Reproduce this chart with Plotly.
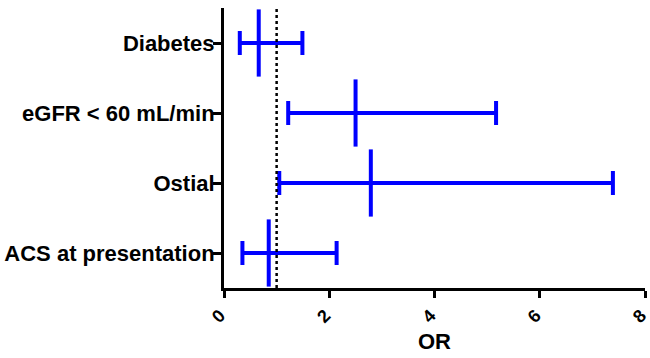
import plotly.graph_objects as go

categories = ["Diabetes", "eGFR < 60 mL/min", "Ostial", "ACS at presentation"]
odds_ratio = [0.66, 2.50, 2.79, 0.85]
ci_lower = [0.30, 1.22, 1.05, 0.35]
ci_upper = [1.49, 5.17, 7.39, 2.14]
reference_value = 1.0
x_ticks = [0, 2, 4, 6, 8]

blue = "#0000ff"
font_family = "Liberation Sans, Arial, Helvetica, sans-serif"

err_plus = [u - o for u, o in zip(ci_upper, odds_ratio)]
err_minus = [o - l for o, l in zip(odds_ratio, ci_lower)]

fig = go.Figure()
fig.add_trace(go.Scatter(
    x=odds_ratio,
    y=categories,
    mode="markers",
    marker=dict(symbol="line-ns", size=48, color=blue,
                line=dict(color=blue, width=4)),
    error_x=dict(type="data", symmetric=False, array=err_plus,
                 arrayminus=err_minus, color=blue, thickness=4, width=12),
    showlegend=False,
    cliponaxis=False,
))

fig.add_shape(type="line", xref="x", yref="paper",
              x0=reference_value, x1=reference_value, y0=0, y1=1,
              line=dict(color="black", width=2.5, dash="dot"))

fig.update_layout(
    width=650, height=358,
    margin=dict(l=224, r=5, t=8, b=70),
    plot_bgcolor="white", paper_bgcolor="white",
    font=dict(family=font_family, color="black"),
)
fig.update_xaxes(
    range=[0, 8], tickvals=x_ticks, ticktext=[str(t) for t in x_ticks],
    automargin=False, ticklabeloverflow="allow", ticklabelshift=-4,
    showline=True, linecolor="black", linewidth=3,
    ticks="outside", ticklen=7, tickwidth=3, tickcolor="black",
    tickangle=-45, tickfont=dict(size=18, weight="bold"),
    showgrid=False, zeroline=False,
    title=dict(text="OR", font=dict(size=22, weight="bold"), standoff=8),
)
fig.update_yaxes(
    categoryorder="array", categoryarray=categories,
    autorange=False, range=[3.5, -0.5], automargin=False,
    showline=True, linecolor="black", linewidth=3,
    ticks="outside", ticklen=8, tickwidth=3, tickcolor="black",
    tickfont=dict(size=22, weight="bold"), ticklabelstandoff=-6,
    showgrid=False, zeroline=False,
)

fig.write_html("out.html",
               config={"displayModeBar": False},
               post_script="document.body.style.margin='0';")
